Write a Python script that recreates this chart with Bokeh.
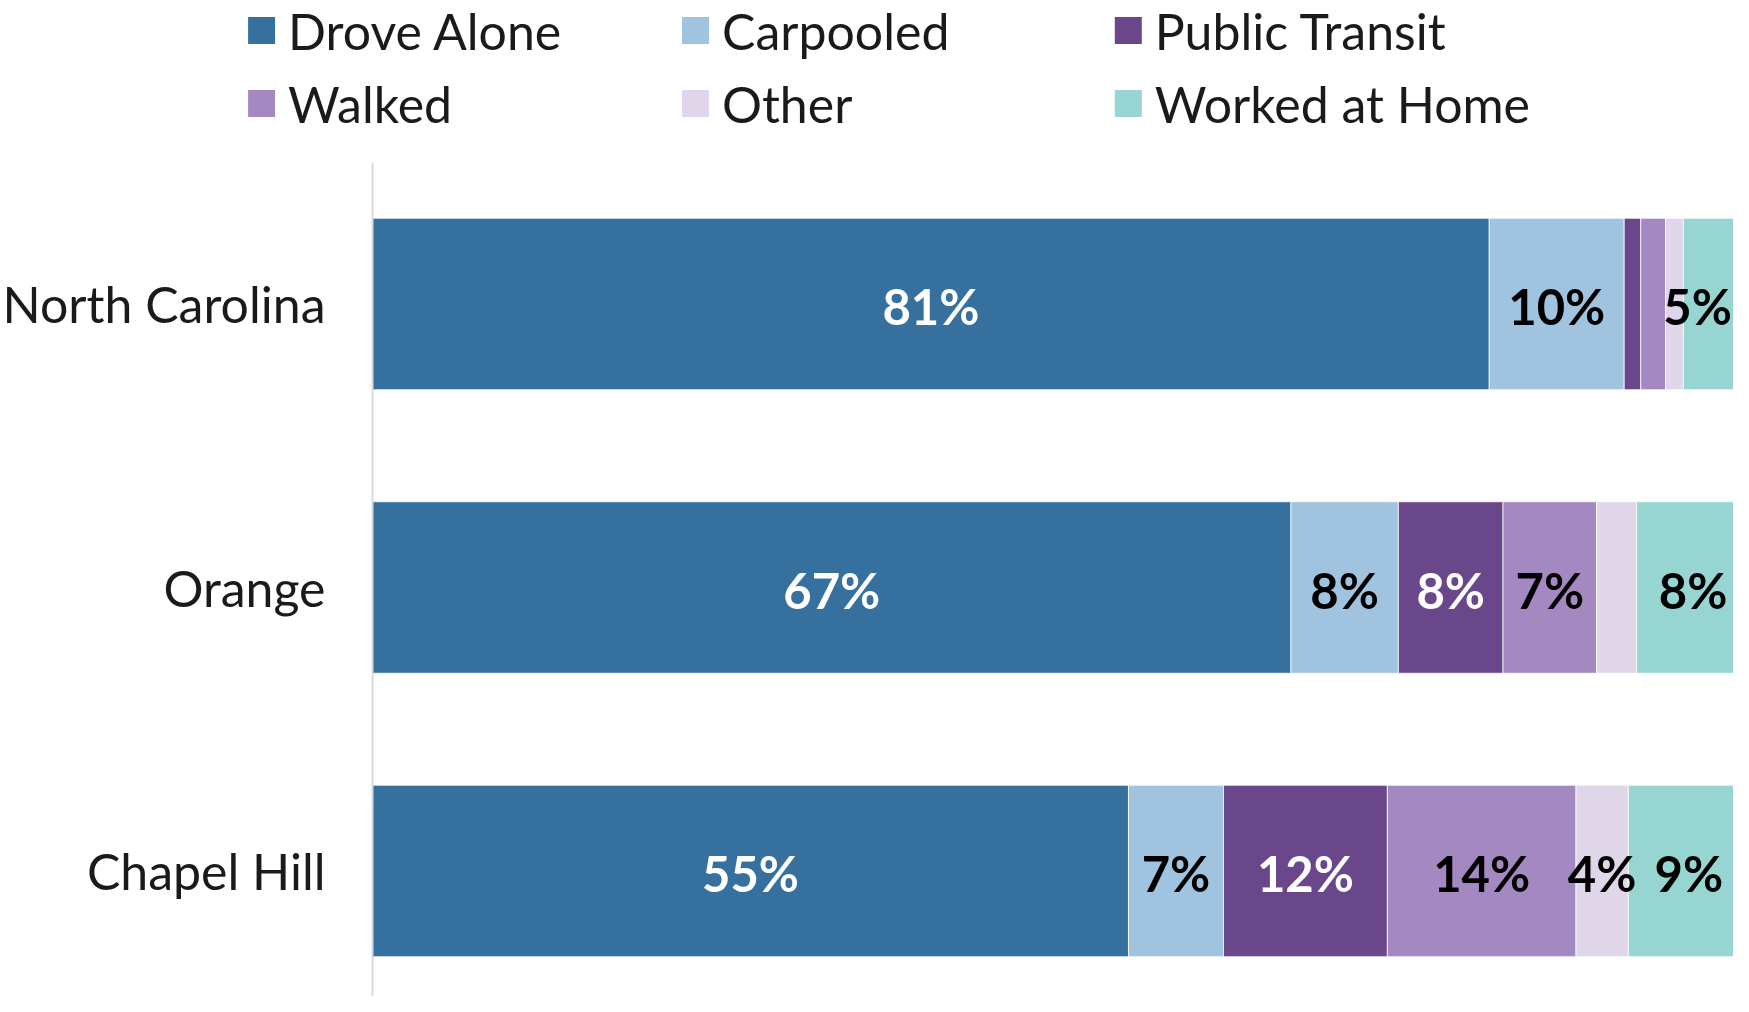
from bokeh.plotting import figure
from bokeh.models import Range1d, ColumnDataSource
from bokeh.embed import file_html
from bokeh.resources import INLINE
from bokeh.core.properties import value

# ---- data ----
categories = ["North Carolina", "Orange", "Chapel Hill"]
modes = ["Drove Alone", "Carpooled", "Public Transit", "Walked", "Other", "Worked at Home"]
drove_alone = [81.1, 66.7, 54.9]
carpooled = [9.8, 7.8, 6.9]
public_transit = [1.2, 7.6, 11.9]
walked = [1.8, 6.8, 13.7]
other = [1.3, 2.9, 3.8]
worked_at_home = [4.8, 8.2, 8.8]

colors = ["#36709F", "#A0C3DF", "#69478A", "#A488C2", "#E0D6EA", "#97D5D2"]
label_colors = ["white", "black", "white", "black", "black", "black"]
min_label_value = 3.5

# ---- layout (pixels) ----
FONT = "Lato"
W, H = 1733, 996
AXIS_PX = 372            # left edge of the bars
PX_PER_PCT = 13.77       # horizontal scale
ROW_PX = 283.5           # distance between bar centres
TOP_BAR_PX = 303.5       # centre of the first bar
AXIS_TOP_PX = 162        # where the category axis line starts
BAR_FRAC = 0.605
LABEL_HALF_W_PX = 36     # half width of a value label, keeps it inside the canvas

series = [drove_alone, carpooled, public_transit, walked, other, worked_at_home]
ypos = [len(categories) - 1 - i for i in range(len(categories))]

x_start = -AXIS_PX / PX_PER_PCT
x_end = x_start + W / PX_PER_PCT
y_top = ypos[0] + TOP_BAR_PX / ROW_PX
y_bottom = y_top - H / ROW_PX


def px_to_x(px):
    return x_start + px / PX_PER_PCT


def px_to_y(py):
    return y_top - py / ROW_PX


p = figure(width=W, height=H,
           x_range=Range1d(x_start, x_end), y_range=Range1d(y_bottom, y_top),
           x_axis_location=None, y_axis_location=None,
           output_backend="svg", toolbar_location=None, min_border=0)
p.outline_line_color = None
p.grid.visible = False

# stacked bars
data = {"y": ypos}
for m, s in zip(modes, series):
    data[m] = s
source = ColumnDataSource(data)
renderers = p.hbar_stack(modes, y="y", height=BAR_FRAC, color=colors,
                         line_color="white", line_width=0.8, source=source)

# segment labels (centred in their segment, kept inside the visible canvas)
max_center = x_end - LABEL_HALF_W_PX / PX_PER_PCT
lx, ly, lt, lc = [], [], [], []
for ci in range(len(categories)):
    left = 0.0
    for si, s in enumerate(series):
        v = s[ci]
        if v >= min_label_value:
            lx.append(min(left + v / 2, max_center))
            ly.append(ypos[ci])
            lt.append(f"{v:.0f}%")
            lc.append(label_colors[si])
        left += v
lsrc = ColumnDataSource(dict(x=lx, y=ly, t=lt, c=lc))
p.text(x="x", y="y", text="t", text_color="c", source=lsrc,
       text_align="center", text_baseline="middle",
       text_font=value(FONT), text_font_style="bold",
       text_font_size=value("49px"), y_offset=2)

# category axis: line + labels
p.segment(x0=[0], y0=[y_bottom], x1=[0], y1=[px_to_y(AXIS_TOP_PX)],
          line_color="#D9D9D9", line_width=2)
csrc = ColumnDataSource(dict(x=[0] * len(categories), y=ypos, t=categories))
p.text(x="x", y="y", text="t", source=csrc, x_offset=-47,
       text_align="right", text_baseline="middle",
       text_font=value(FONT), text_font_size=value("50px"), text_color="#1a1a1a")

# legend (3 columns x 2 rows)
col_px = [247.6, 681.5, 1114.3]
row_px = [30, 103]
SQ = 27
sx, sy, tx, tt, tc = [], [], [], [], []
for i, m in enumerate(modes):
    r, c = divmod(i, 3)
    sx.append(px_to_x(col_px[c] + SQ / 2))
    tx.append(px_to_x(col_px[c] + 40))
    sy.append(px_to_y(row_px[r]))
    tt.append(m)
    tc.append(colors[i])
gsrc = ColumnDataSource(dict(sx=sx, tx=tx, y=sy, t=tt, c=tc))
p.scatter(x="sx", y="y", marker="square", size=SQ, fill_color="c",
          line_color=None, source=gsrc)
p.text(x="tx", y="y", text="t", source=gsrc, text_align="left", text_baseline="middle",
       text_font=value(FONT), text_font_size=value("50px"), text_color="#1a1a1a")

open("out.html", "w").write(file_html(p, INLINE))
